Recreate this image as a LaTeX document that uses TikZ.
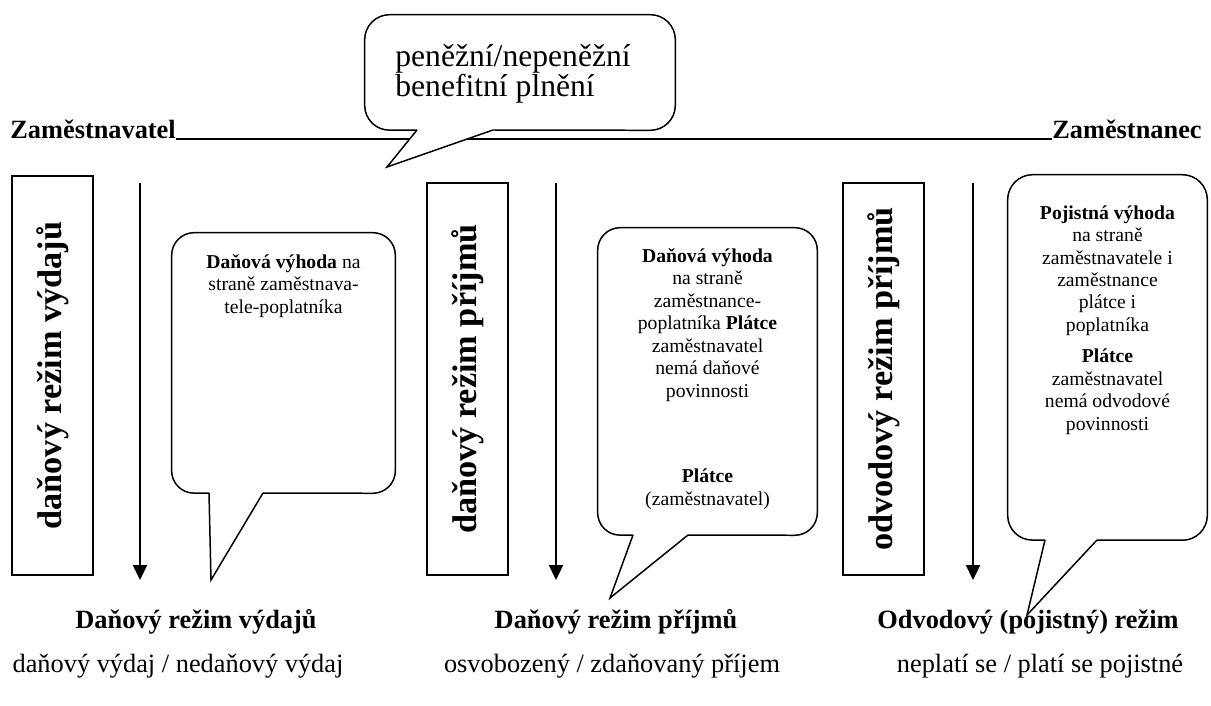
\documentclass[tikz,border=0pt]{standalone}
\usepackage{fontspec}
\setmainfont{Liberation Serif}
\usetikzlibrary{arrows.meta}

\begin{document}
\begin{tikzpicture}[x=0.02cm, y=-0.02cm,
  party/.style = {font=\fontsize{15}{17}\selectfont\bfseries, inner sep=0pt},
  regime/.style = {draw, line width=0.85pt, rotate=90, minimum height=1.62cm, inner sep=0pt, font=\fontsize{19.5}{21}\selectfont\bfseries},
  bubble/.style = {inner sep=0pt},
  bubline/.style = {line width=0.85pt, line join=miter},
  note/.style = {align=center, inner sep=0pt, font=\fontsize{11.2}{12.8}\selectfont},
  flow/.style = {line width=1.3pt, -{Triangle[length=0.3cm, width=0.28cm]}},
  head/.style = {font=\fontsize{15}{17}\selectfont\bfseries, inner sep=0pt},
  detail/.style = {font=\fontsize{15}{17}\selectfont, inner sep=0pt}]
\useasboundingbox (0,0) rectangle (1211,706);

% employer -- employee
\node[party, anchor=base west] (er) at (10,139) {Zaměstnavatel};
\node[party, anchor=base east] (ee) at (1202,139) {Zaměstnanec};
\draw[line width=1pt] (er.base east) -- (ee.base west);

% benefit callout
\node[bubble, minimum width=6.2cm, minimum height=2.3cm] (bt) at (520,72.5) {};
\coordinate (btl) at (417,130);
\coordinate (btr) at (493,130);
\coordinate (bttip) at (387,167);
\filldraw[bubline, fill=white] (btl) -- (bttip) -- (btr);
\draw[bubline, rounded corners=0.5cm] (btr) -- (bt.south east) -- (bt.north east) -- (bt.north west) -- (bt.south west) -- (btl);
\node[anchor=north west, align=left, inner sep=0pt, font=\fontsize{18}{17}\selectfont] (btext) at (395,44) {peněžní/nepeněžní\\benefitní plnění};

% regimes
\node[regime, minimum width=7.98cm] (r1) at (52.5,375.5) {daňový režim výdajů};
\node[regime, minimum width=7.84cm] (r2) at (467.5,379) {daňový režim příjmů};
\node[regime, minimum width=7.84cm] (r3) at (883.5,379) {odvodový režim příjmů};

\foreach \x/\n in {140/1, 556/2, 973/3} {
  \coordinate (a\n s) at (\x,183);
  \coordinate (a\n e) at (\x,580);
  \draw[flow] (a\n s) -- (a\n e);
}

% callout 1
\node[bubble, minimum width=4.46cm, minimum height=5.2cm] (b1) at (283.5,363) {};
\coordinate (b1l) at (209,493);
\coordinate (b1r) at (263,493);
\coordinate (b1tip) at (211,580);
\draw[bubline, rounded corners=0.45cm] (b1r) -- (b1.south east) -- (b1.north east) -- (b1.north west) -- (b1.south west) -- (b1l);
\draw[bubline] (b1l) -- (b1tip) -- (b1r);
\node[note, anchor=north] (n1) at (283.5,254) {\textbf{Daňová výhoda} na\\straně zaměstnava-\\tele-poplatníka};

% callout 2
\node[bubble, minimum width=4.38cm, minimum height=6.14cm] (b2) at (707.5,381.5) {};
\coordinate (b2l) at (633,535);
\coordinate (b2r) at (688,535);
\coordinate (b2tip) at (610,598);
\draw[bubline, rounded corners=0.45cm] (b2r) -- (b2.south east) -- (b2.north east) -- (b2.north west) -- (b2.south west) -- (b2l);
\draw[bubline] (b2l) -- (b2tip) -- (b2r);
\node[note, anchor=north] (n2) at (707.5,248) {\textbf{Daňová výhoda}\\na straně\\zaměstnance-\\poplatníka \textbf{Plátce}\\zaměstnavatel\\nemá daňové\\povinnosti\\[36pt]\textbf{Plátce}\\(zaměstnavatel)};

% callout 3
\node[bubble, minimum width=3.98cm, minimum height=7.3cm] (b3) at (1107.5,357.5) {};
\coordinate (b3l) at (1045,540);
\coordinate (b3r) at (1097,540);
\coordinate (b3tip) at (1027,615);
\draw[bubline, rounded corners=0.5cm] (b3r) -- (b3.south east) -- (b3.north east) -- (b3.north west) -- (b3.south west) -- (b3l);
\draw[bubline] (b3l) -- (b3tip) -- (b3r);
\node[note, anchor=north] (n3) at (1107.5,205) {\textbf{Pojistná výhoda}\\na straně\\zaměstnavatele i\\zaměstnance\\plátce i\\poplatníka\\[5pt]\textbf{Plátce}\\zaměstnavatel\\nemá odvodové\\povinnosti};

% bottom rows
\node[head, anchor=base] (h1) at (196,628) {Daňový režim výdajů};
\node[head, anchor=base] (h2) at (616,628) {Daňový režim příjmů};
\node[head, anchor=base] (h3) at (1028,628) {Odvodový (pojistný) režim};
\node[detail, anchor=base] (d1) at (178,672) {daňový výdaj / nedaňový výdaj};
\node[detail, anchor=base] (d2) at (612,672) {osvobozený / zdaňovaný příjem};
\node[detail, anchor=base] (d3) at (1040,672) {neplatí se / platí se pojistné};
\end{tikzpicture}
\end{document}
